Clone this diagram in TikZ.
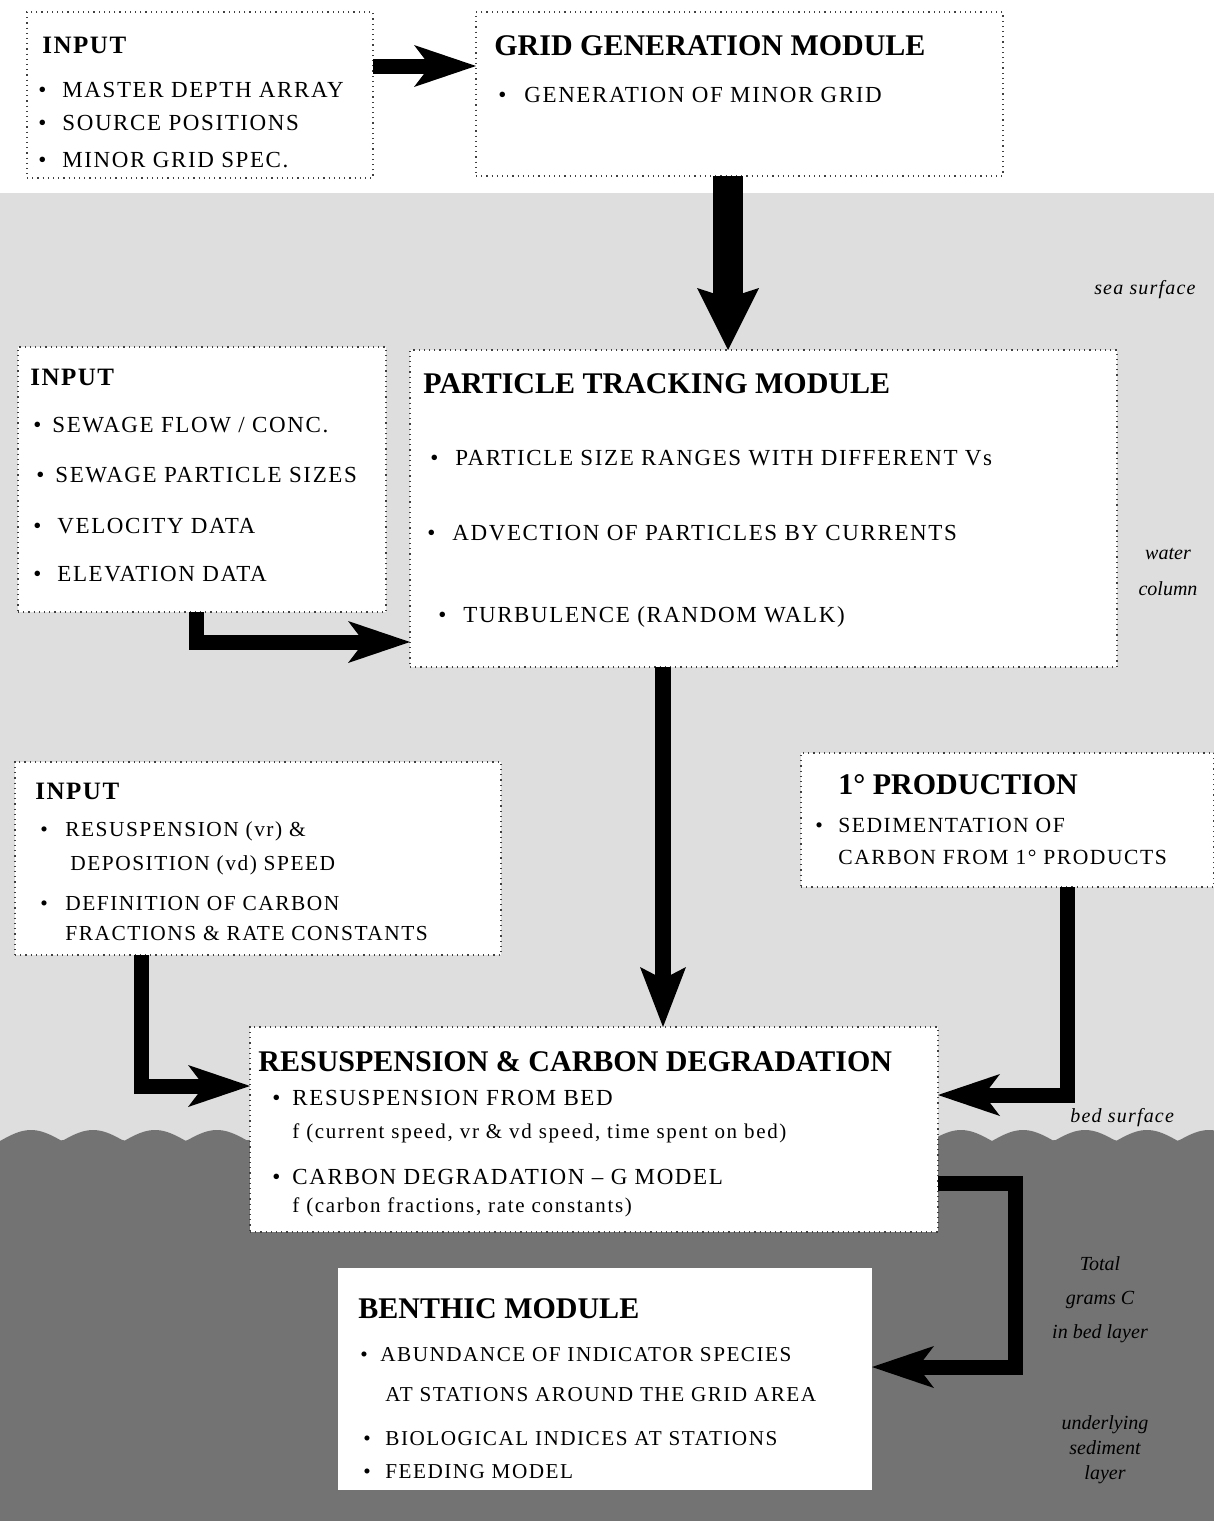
\documentclass[tikz,border=0pt]{standalone}
\usepackage{fontspec}
\setmainfont{Liberation Serif}
\usetikzlibrary{arrows.meta,calc}
\tikzset{
  box/.style={draw=black!75, dotted, line width=0.6pt, fill=white, anchor=north west, inner sep=0pt, outer sep=0pt},
  ttlsty/.style={inner sep=0pt, anchor=base west, font=\fontsize{15}{17}\selectfont\bfseries},
  ttlsmall/.style={inner sep=0pt, anchor=base west, font=\fontsize{12.5}{14}\selectfont\bfseries\addfontfeature{LetterSpace=6}},
  itsty/.style={inner sep=0pt, anchor=base west, font=\fontsize{11.5}{13}\selectfont\addfontfeature{LetterSpace=7}},
  smsty/.style={inner sep=0pt, anchor=base west, font=\fontsize{10.5}{12}\selectfont\addfontfeature{LetterSpace=8}},
  lbl/.style={inner sep=0pt, font=\fontsize{10}{12}\selectfont\itshape\addfontfeature{LetterSpace=6}},
  arrH/.style={draw=black, line width=7.5pt, line join=miter, -{Stealth[length=31pt, width=21pt, inset=8pt, line width=0pt]}},
  arrBig/.style={draw=black, line width=15pt, -{Stealth[length=31pt, width=31pt, inset=5pt, line width=0pt]}},
  arrMid/.style={draw=black, line width=8pt, -{Stealth[length=30pt, width=23pt, inset=6pt, line width=0pt]}},
  water/.style={fill=black!13},
  sediment/.style={fill=black!55},
}
\newcommand\ttl[4]{\node[ttlsty] (#1) at (#2,#3) {#4};}
\newcommand\ttls[4]{\node[ttlsmall] (#1) at (#2,#3) {#4};}
\newcommand\itm[5]{\node[itsty] (#1) at (#2,#4) {\makebox[\dimexpr 1pt*(#3-#2)/2\relax][l]{\textbullet}#5};}
\newcommand\txt[4]{\node[itsty] (#1) at (#2,#3) {#4};}
\newcommand\txts[4]{\node[smsty] (#1) at (#2,#3) {#4};}
\begin{document}
\begin{tikzpicture}[x=0.5pt, y=-0.5pt]
\useasboundingbox (0,0) rectangle (1214,1521);
\fill[white] (0,0) rectangle (1214,1521);
% water column
\fill[water] (0,193) rectangle (1214,1160);
% sediment with wavy bed surface
\fill[sediment] plot[domain=0:1214, samples=400] (\x, {1141 - 11*abs(sin(\x/62*180))}) -- (1214,1521) -- (0,1521) -- cycle;

% coordinates for connector positions
\coordinate (c728) at (728,0);
\coordinate (c196) at (196,0);
\coordinate (c663) at (663,0);
\coordinate (c141) at (141,0);
\coordinate (c1067) at (1067,0);

% boxes
\node[box, minimum width=173pt, minimum height=83pt] (box1) at (27,12) {};
\node[box, minimum width=263.5pt, minimum height=82pt] (box2) at (476,12) {};
\node[box, minimum width=184pt, minimum height=132.5pt] (box3) at (18,347) {};
\node[box, minimum width=353.5pt, minimum height=158.5pt] (box4) at (410,350) {};
\node[box, minimum width=243pt, minimum height=96.5pt] (box5) at (15,762) {};
\node[box, minimum width=206.5pt, minimum height=67pt] (box6) at (801,753) {};
\node[box, minimum width=344pt, minimum height=102.5pt] (box7) at (250,1027) {};
\node[box, draw=none, minimum width=267pt, minimum height=111pt] (box8) at (338,1268) {};

% box 1
\ttls{t1}{42}{53}{INPUT}
\itm{i11}{38}{62}{97}{MASTER DEPTH ARRAY}
\itm{i12}{38}{62}{130}{SOURCE POSITIONS}
\itm{i13}{38}{62}{167}{MINOR GRID SPEC.}
% box 2
\ttl{t2}{494}{55}{GRID GENERATION MODULE}
\itm{i21}{498}{524}{102}{GENERATION OF MINOR GRID}
% box 3
\ttls{t3}{30}{385}{INPUT}
\itm{i31}{33}{52}{432}{SEWAGE FLOW / CONC.}
\itm{i32}{36}{55}{482}{SEWAGE PARTICLE SIZES}
\itm{i33}{33}{57}{533}{VELOCITY DATA}
\itm{i34}{33}{57}{581}{ELEVATION DATA}
% box 4
\ttl{t4}{423}{393}{PARTICLE TRACKING MODULE}
\itm{i41}{430}{455}{465}{PARTICLE SIZE RANGES WITH DIFFERENT Vs}
\itm{i42}{427}{452}{540}{ADVECTION OF PARTICLES BY CURRENTS}
\itm{i43}{438}{463}{622}{TURBULENCE (RANDOM WALK)}
% box 5
\ttls{t5}{35}{799}{INPUT}
\begin{scope}[itsty/.style={inner sep=0pt, anchor=base west, font=\fontsize{10.7}{12}\selectfont\addfontfeature{LetterSpace=7}}]
\itm{i51}{40}{65}{836}{RESUSPENSION (vr) \&}
\txt{i52}{70}{870}{DEPOSITION (vd) SPEED}
\itm{i53}{40}{65}{910}{DEFINITION OF CARBON}
\txt{i54}{65}{940}{FRACTIONS \& RATE CONSTANTS}
\end{scope}
% box 6
\ttl{t6}{838}{794}{1° PRODUCTION}
\begin{scope}[itsty/.style={inner sep=0pt, anchor=base west, font=\fontsize{10.8}{12}\selectfont\addfontfeature{LetterSpace=7}}]
\itm{i61}{815}{838}{832}{SEDIMENTATION OF}
\txt{i62}{838}{864}{CARBON FROM 1° PRODUCTS}
\end{scope}
% box 7
\ttl{t7}{258}{1071}{RESUSPENSION \& CARBON DEGRADATION}
\itm{i71}{272}{292}{1105}{RESUSPENSION FROM BED}
\txts{i72}{292}{1138}{f (current speed, vr \& vd speed, time spent on bed)}
\itm{i73}{272}{292}{1184}{CARBON DEGRADATION – G MODEL}
\txts{i74}{292}{1212}{f (carbon fractions, rate constants)}
% box 8
\ttl{t8}{358}{1318}{BENTHIC MODULE}
\begin{scope}[itsty/.style={inner sep=0pt, anchor=base west, font=\fontsize{10.6}{12}\selectfont\addfontfeature{LetterSpace=7}}]
\itm{i81}{360}{380}{1361}{ABUNDANCE OF INDICATOR SPECIES}
\txt{i82}{385}{1401}{AT STATIONS AROUND THE GRID AREA}
\itm{i83}{363}{385}{1445}{BIOLOGICAL INDICES AT STATIONS}
\itm{i84}{363}{385}{1478}{FEEDING MODEL}
\end{scope}

% connectors
\draw[arrH] ($(box1.north east)+(0,54)$) -- ($(box2.north west)+(0,54)$);
\draw[arrBig] (box2.south -| c728) -- (box4.north -| c728);
\draw[arrH] (box3.south -| c196) |- ($(box4.south west)+(0,-25)$);
\draw[arrMid] (box4.south -| c663) -- (box7.north -| c663);
\draw[arrH] (box5.south -| c141) |- ($(box7.north west)+(0,59)$);
\draw[arrH] (box6.south -| c1067) |- ($(box7.north east)+(0,68)$);
\draw[arrH] ($(box7.north east)+(0,156)$) -| ($(box8.north east)+(143,99)$) -- ($(box8.north east)+(0,99)$);

% region labels
\node[lbl, anchor=base east] (seasurf) at (1196,294) {sea surface};
\node[lbl, align=center, font=\fontsize{10}{18}\selectfont\itshape] (watercol) at (1168,572) {water\\column};
\node[lbl, anchor=base west] (bedsurf) at (1070,1122) {bed surface};
\node[lbl, align=center, font=\fontsize{10}{17}\selectfont\itshape] (totalc) at (1100,1300) {Total\\grams C\\in bed layer};
\node[lbl, align=center, font=\fontsize{10}{12.5}\selectfont\itshape] (underl) at (1105,1450) {underlying\\sediment\\layer};
\end{tikzpicture}
\end{document}
